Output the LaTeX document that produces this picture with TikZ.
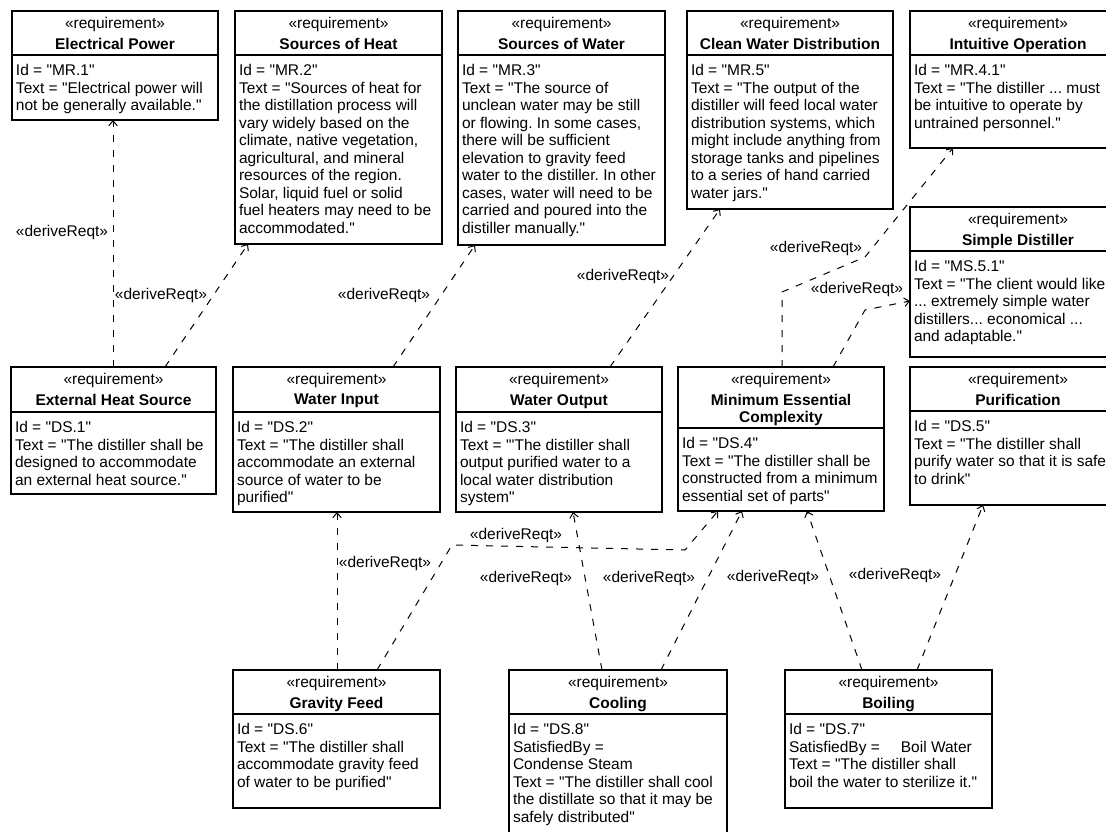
\documentclass[tikz,border=0pt]{standalone}
\usepackage{fontspec}
\setmainfont{Liberation Sans}[Ligatures=TeXOff]
\usetikzlibrary{arrows.meta}
\frenchspacing
\newcommand\fs{\fontsize{15.5}{17.5}\selectfont\frenchspacing}
% #1 name, #2 left, #3 top, #4 width, #5 height, #6 divider offset, #7 title, #8 body
\newcommand\reqbox[8]{%
  \node[reqframe,minimum width=#4pt,minimum height=#5pt] (#1) at (#2,#3) {};
  \draw[divline] ([yshift=-#6pt]#1.north west) -- ([yshift=-#6pt]#1.north east);
  \node[anchor=base] (#1-st) at ([yshift=-17.5pt]#1.north) {«requirement»};
  \node[anchor=north,align=center,font=\fs\bfseries] (#1-ti) at ([yshift=-27.2pt]#1.north) {#7};
  \node[anchor=north west,align=left] (#1-bd) at ([xshift=4pt,yshift=-#6pt-9.5pt]#1.north west) {#8};
}
\begin{document}
\begin{tikzpicture}[x=1pt,y=-1pt,
  every node/.style={font=\fs,inner sep=0pt,outer sep=0pt},
  reqframe/.style={draw,line width=1.1pt,anchor=north west,rectangle},
  divline/.style={line width=1.1pt},
  derive/.style={line width=1pt,dash pattern=on 7pt off 8pt,-{Straight Barb[length=5pt,width=8.5pt]}}]
\useasboundingbox (0,0) rectangle (1106,832);
\fill[white] (0,0) rectangle (1106,832);
\clip (0,0) rectangle (1106,832);

% top row
\reqbox{ep}{12}{11}{206}{109}{44}{Electrical Power}{Id = "MR.1"\\Text = "Electrical power will\\not be generally available."}
\reqbox{sh}{235}{11}{207}{233}{44}{Sources of Heat}{Id = "MR.2"\\Text = "Sources of heat for\\the distillation process will\\vary widely based on the\\climate, native vegetation,\\agricultural, and mineral\\resources of the region.\\Solar, liquid fuel or solid\\fuel heaters may need to be\\accommodated."}
\reqbox{sw}{458}{11}{207}{234}{44}{Sources of Water}{Id = "MR.3"\\Text = "The source of\\unclean water may be still\\or flowing. In some cases,\\there will be sufficient\\elevation to gravity feed\\water to the distiller. In other\\cases, water will need to be\\carried and poured into the\\distiller manually."}
\reqbox{cwd}{687}{11}{206}{198}{44}{Clean Water Distribution}{Id = "MR.5"\\Text = "The output of the\\distiller will feed local water\\distribution systems, which\\might include anything from\\storage tanks and pipelines\\to a series of hand carried\\water jars."}
\reqbox{io}{910}{11}{216}{137}{44}{Intuitive Operation}{Id = "MR.4.1"\\Text = "The distiller ... must\\be intuitive to operate by\\untrained personnel."}
\reqbox{sd}{910}{207}{216}{150}{44}{Simple Distiller}{Id = "MS.5.1"\\Text = "The client would like\\... extremely simple water\\distillers... economical ...\\and adaptable."}

% middle row
\reqbox{ehs}{11}{367}{205}{127}{45}{External Heat Source}{Id = "DS.1"\\Text = "The distiller shall be\\designed to accommodate\\an external heat source."}
\reqbox{wi}{233}{367}{207}{145}{45}{Water Input}{Id = "DS.2"\\Text = "The distiller shall\\accommodate an external\\source of water to be\\purified"}
\reqbox{wo}{456}{367}{206}{145}{45}{Water Output}{Id = "DS.3"\\Text = "'The distiller shall\\output purified water to a\\local water distribution\\system"}
\reqbox{mec}{678}{367}{206}{144}{61}{Minimum Essential\\Complexity}{Id = "DS.4"\\Text = "The distiller shall be\\constructed from a minimum\\essential set of parts"}
\reqbox{pur}{910}{367}{216}{138}{44}{Purification}{Id = "DS.5"\\Text = "The distiller shall\\purify water so that it is safe\\to drink"}

% bottom row
\reqbox{gf}{233}{670}{207}{138}{44}{Gravity Feed}{Id = "DS.6"\\Text = "The distiller shall\\accommodate gravity feed\\of water to be purified"}
\reqbox{cool}{509}{670}{218}{180}{44}{Cooling}{Id = "DS.8"\\SatisfiedBy =\\Condense Steam\\Text = "The distiller shall cool\\the distillate so that it may be\\safely distributed"}
\reqbox{boil}{785}{670}{207}{138}{44}{Boiling}{Id = "DS.7"\\SatisfiedBy =\hspace{21pt}Boil Water\\Text = "The distiller shall\\boil the water to sterilize it."}

% connectors
\draw[derive] ([xshift=102pt]ehs.north west) -- ([xshift=101pt]ep.south west);
\draw[derive] ([xshift=154pt]ehs.north west) -- ([xshift=13pt]sh.south west);
\draw[derive] ([xshift=160pt]wi.north west) -- ([xshift=17pt]sw.south west);
\draw[derive] ([xshift=154pt]wo.north west) -- ([xshift=33pt]cwd.south west);
\draw[derive] ([xshift=104pt]mec.north west) -- ++(0,-75) -- (865,257) -- ([xshift=43pt]io.south west);
\draw[derive] ([xshift=155pt]mec.north west) -- (865,310) -- ([yshift=-94pt]sd.north west);
\draw[derive] ([xshift=104pt]gf.north west) -- ([xshift=104pt]wi.south west);
\draw[derive] ([xshift=144pt]gf.north west) -- (452,545) -- (685,550) -- ([xshift=40pt]mec.south west);
\draw[derive] ([xshift=93pt]cool.north west) -- ([xshift=117pt]wo.south west);
\draw[derive] ([xshift=152pt]cool.north west) -- ([xshift=64pt]mec.south west);
\draw[derive] ([xshift=77pt]boil.north west) -- ([xshift=129pt]mec.south west);
\draw[derive] ([xshift=132pt]boil.north west) -- ([xshift=73pt]pur.south west);

% labels
\node (l1) at (62,232) {«deriveReqt»};
\node (l2) at (161,295) {«deriveReqt»};
\node (l3) at (384,295) {«deriveReqt»};
\node (l4) at (623,276) {«deriveReqt»};
\node (l5) at (816,248) {«deriveReqt»};
\node (l6) at (857,289) {«deriveReqt»};
\node (l7) at (385,563) {«deriveReqt»};
\node (l8) at (516,535) {«deriveReqt»};
\node (l9) at (526,578) {«deriveReqt»};
\node (l10) at (649,578) {«deriveReqt»};
\node (l11) at (773,577) {«deriveReqt»};
\node (l12) at (895,575) {«deriveReqt»};
\end{tikzpicture}
\end{document}
